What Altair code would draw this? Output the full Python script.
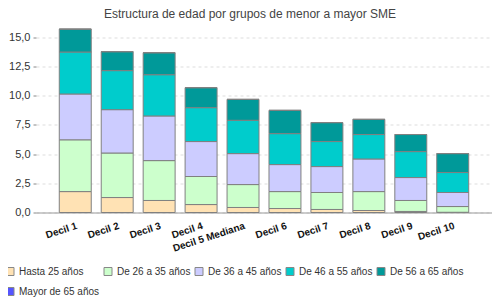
import altair as alt
import pandas as pd

deciles = ["Decil 1", "Decil 2", "Decil 3", "Decil 4", "Decil 5 Mediana",
           "Decil 6", "Decil 7", "Decil 8", "Decil 9", "Decil 10"]
groups = ["Hasta 25 años", "De 26 a 35 años", "De 36 a 45 años",
          "De 46 a 55 años", "De 56 a 65 años", "Mayor de 65 años"]
colors = ["#ffe2b4", "#ccffcc", "#ccccff", "#00cccc", "#009999", "#5555ff"]

hasta25 = [1.79, 1.28, 1.03, 0.68, 0.43, 0.34, 0.26, 0.17, 0.09, 0.02]
de26_35 = [4.43, 3.81, 3.41, 2.40, 1.96, 1.45, 1.45, 1.62, 0.94, 0.49]
de36_45 = [3.92, 3.71, 3.82, 2.99, 2.65, 2.31, 2.22, 2.79, 1.96, 1.20]
de46_55 = [3.59, 3.34, 3.53, 2.90, 2.85, 2.65, 2.14, 2.09, 2.22, 1.71]
de56_65 = [1.96, 1.62, 1.88, 1.71, 1.79, 1.99, 1.62, 1.30, 1.46, 1.62]
mayor65 = [0.0, 0.0, 0.0, 0.0, 0.0, 0.0, 0.0, 0.0, 0.0, 0.0]

series = [hasta25, de26_35, de36_45, de46_55, de56_65, mayor65]
rows = []
for gi, (g, vals) in enumerate(zip(groups, series)):
    for d, v in zip(deciles, vals):
        rows.append({"decil": d, "grupo": g, "valor": v, "idx": gi})
df = pd.DataFrame(rows)

chart = alt.Chart(df).mark_bar(stroke="#808080", strokeWidth=1).encode(
    x=alt.X("decil:N", sort=deciles, title=None,
            scale=alt.Scale(paddingInner=0.238, paddingOuter=0.555),
            axis=alt.Axis(labelAngle=-18, labelFont="Liberation Sans", labelFontSize=10,
                          labelColor="#111", labelFontWeight="bold", ticks=False,
                          labelPadding=8, domainColor="#999", labelOverlap=False)),
    y=alt.Y("valor:Q", stack="zero", title=None,
            scale=alt.Scale(domain=[0, 16], nice=False),
            axis=alt.Axis(values=[0, 2.5, 5, 7.5, 10, 12.5, 15],
                          labelExpr="replace(format(datum.value, '.1f'), '.', ',')",
                          labelFont="Liberation Sans", labelFontSize=11, labelColor="#333",
                          tickSize=3, tickColor="#888", labelPadding=3, domain=False,
                          gridColor="#dddddd", gridDash=[3, 3])),
    color=alt.Color("grupo:N", scale=alt.Scale(domain=groups, range=colors),
                    legend=alt.Legend(title=None, orient="none", legendX=-31, legendY=241,
                                      direction="horizontal", columns=5, gridAlign="none",
                                      symbolType="square", symbolSize=64,
                                      symbolStrokeColor="#888", symbolStrokeWidth=1,
                                      labelFont="Liberation Sans", labelFontSize=10,
                                      labelColor="#333", columnPadding=2, rowPadding=8,
                                      labelOffset=4, symbolOpacity=1)),
    order=alt.Order("idx:Q", sort="ascending"),
).properties(
    width=456, height=187,
    title=alt.TitleParams("Estructura de edad por grupos de menor a mayor SME",
                          font="Liberation Sans", fontSize=12, fontWeight="normal",
                          color="#444", anchor="middle", dx=-14, dy=-1),
    padding={"left": 28, "top": 17.5, "right": 0, "bottom": 85},
    autosize=alt.AutoSizeParams(type="none"),
).configure_view(stroke=None)

chart.save("out.html", embed_options={"renderer": "svg", "actions": False})
